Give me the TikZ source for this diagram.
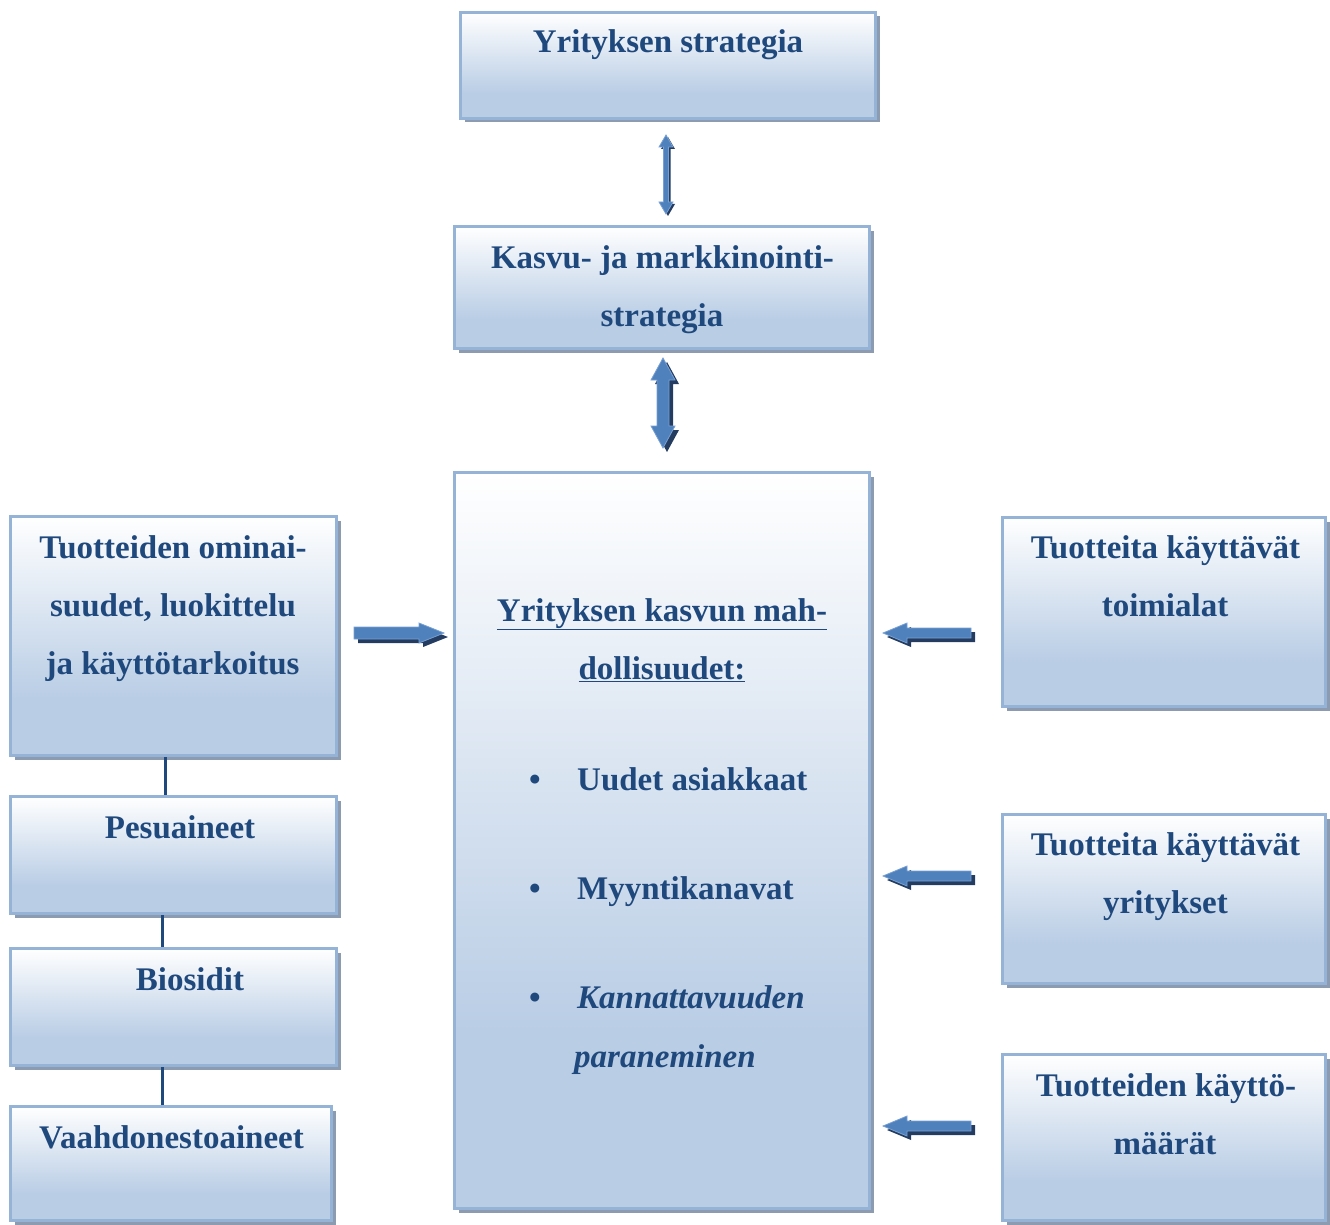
\documentclass[tikz,border=0pt]{standalone}
\usepackage{fontspec}
\setmainfont{Liberation Serif}
\usetikzlibrary{shadows}
\definecolor{textblue}{RGB}{31,73,125}
\definecolor{boxborder}{RGB}{149,179,215}
\definecolor{boxfill}{RGB}{185,205,229}
\definecolor{shadowgray}{RGB}{140,155,175}
\definecolor{arrowblue}{RGB}{79,129,189}
\definecolor{arrowlight}{RGB}{120,160,210}
\definecolor{arrowdark}{RGB}{36,60,96}
\pgfdeclareverticalshading{boxshade}{100bp}{color(0bp)=(boxfill); color(25bp)=(boxfill); color(37bp)=(boxfill); color(75bp)=(white); color(100bp)=(white)}
\begin{document}
\begin{tikzpicture}[x=1pt,y=-1pt,
  box/.style={draw=boxborder, line width=3.6pt, shading=boxshade,
    drop shadow={shadow xshift=4pt, shadow yshift=-4pt, fill=shadowgray, opacity=1}},
  tx/.style={font=\fontsize{33}{40}\selectfont\bfseries, text=textblue, anchor=base, inner sep=0pt},
  txl/.style={tx, anchor=base west},
  conn/.style={draw=textblue, line width=3pt},
  blk/.style={fill=arrowblue, draw=arrowlight, line width=0.8pt, line join=miter},
  blkshadow/.style={fill=arrowdark}
]
\useasboundingbox (0,0) rectangle (1330,1225);

% boxes
\node[box, minimum width=415pt, minimum height=106pt] (top) at (668,65.5) {};
\node[box, minimum width=415pt, minimum height=122pt] (kasvu) at (662,287.5) {};
\node[box, minimum width=415pt, minimum height=736pt] (center) at (662,840.5) {};
\node[box, minimum width=326pt, minimum height=239pt] (l1) at (173.5,636) {};
\node[box, minimum width=326pt, minimum height=117pt] (pesu) at (173.5,855) {};
\node[box, minimum width=326pt, minimum height=117pt] (bio) at (173.5,1007) {};
\node[box, minimum width=321pt, minimum height=114pt] (vaah) at (171,1163.5) {};
\node[box, minimum width=323pt, minimum height=189pt] (r1) at (1164,612) {};
\node[box, minimum width=323pt, minimum height=169pt] (r2) at (1164,899) {};
\node[box, minimum width=323pt, minimum height=166pt] (r3) at (1164,1137.5) {};

% connectors on the left
\draw[conn] ([xshift=-8.5pt]l1.south) -- ([xshift=-8.5pt]l1.south |- pesu.north);
\draw[conn] ([xshift=-11.5pt]pesu.south) -- ([xshift=-11.5pt]pesu.south |- bio.north);
\draw[conn] ([xshift=-11.5pt]bio.south) -- ([xshift=-11.5pt]bio.south |- vaah.north);

% texts
\node[tx] (t1) at (668,53) {Yrityksen strategia};
\node[tx] (t2a) at (662.5,268) {Kasvu- ja markkinointi-};
\node[tx] (t2b) at (662,326) {strategia};

\node[tx] (c1) at (662,621) {\underline{Yrityksen kasvun mah-}};
\node[tx] (c2) at (662,679) {\underline{dollisuudet:}};
\node[tx] (bu1) at (535,790) {\textbullet};
\node[tx] (bu2) at (535,899) {\textbullet};
\node[tx] (bu3) at (535,1008) {\textbullet};
\node[txl] (i1) at (577,790) {Uudet asiakkaat};
\node[txl] (i2) at (577,899) {Myyntikanavat};
\node[txl] (i3) at (577,1008) {\itshape Kannattavuuden};
\node[txl] (i4) at (574,1067) {\itshape paraneminen};

\node[tx] (l1a) at (173,558) {Tuotteiden ominai-};
\node[tx] (l1b) at (173,616) {suudet, luokittelu};
\node[tx] (l1c) at (172.5,674) {ja käyttötarkoitus};
\node[tx] (pt) at (180,838) {Pesuaineet};
\node[tx] (bt) at (190,990) {Biosidit};
\node[tx] (vt) at (171.5,1148) {Vaahdonestoaineet};

\node[tx] (r1a) at (1165.5,558) {Tuotteita käyttävät};
\node[tx] (r1b) at (1165,616) {toimialat};
\node[tx] (r2a) at (1165.5,855) {Tuotteita käyttävät};
\node[tx] (r2b) at (1165.5,913) {yritykset};
\node[tx] (r3a) at (1166,1096) {Tuotteiden käyttö-};
\node[tx] (r3b) at (1165,1154) {määrät};

% block arrows
\coordinate (va1) at (666,135);
\coordinate (va2) at (663,358);
\coordinate (ha1) at (354,633);
\coordinate (la1) at (883,633);
\coordinate (la2) at (883,876);
\coordinate (la3) at (883,1126);

\foreach \s/\t/\st in {{(2,2)}/{(4,4)}/blkshadow,{(0,0)}/{(0,0)}/blk}{
  \path[\st, shift={(va1)}, shift=\s] (0,0) -- (7,12) -- (2.5,12) -- (2.5,67) -- (7,67) -- (0,79)
     -- (-7,67) -- (-2.5,67) -- (-2.5,12) -- (-7,12) -- cycle;
  \path[\st, shift={(va2)}, shift=\t] (0,0) -- (12,22) -- (6,22) -- (6,68) -- (12,68) -- (0,90)
     -- (-12,68) -- (-6,68) -- (-6,22) -- (-12,22) -- cycle;
  \path[\st, shift={(ha1)}, shift=\t] (0,-6) -- (65,-6) -- (65,-10) -- (90,0) -- (65,10) -- (65,6)
     -- (0,6) -- cycle;
  \foreach \c in {la1,la2,la3}{
    \path[\st, shift={(\c)}, shift=\t] (0,0) -- (24,-10) -- (24,-5) -- (88,-5) -- (88,5) -- (24,5)
       -- (24,10) -- cycle;
  }
}
\end{tikzpicture}
\end{document}
